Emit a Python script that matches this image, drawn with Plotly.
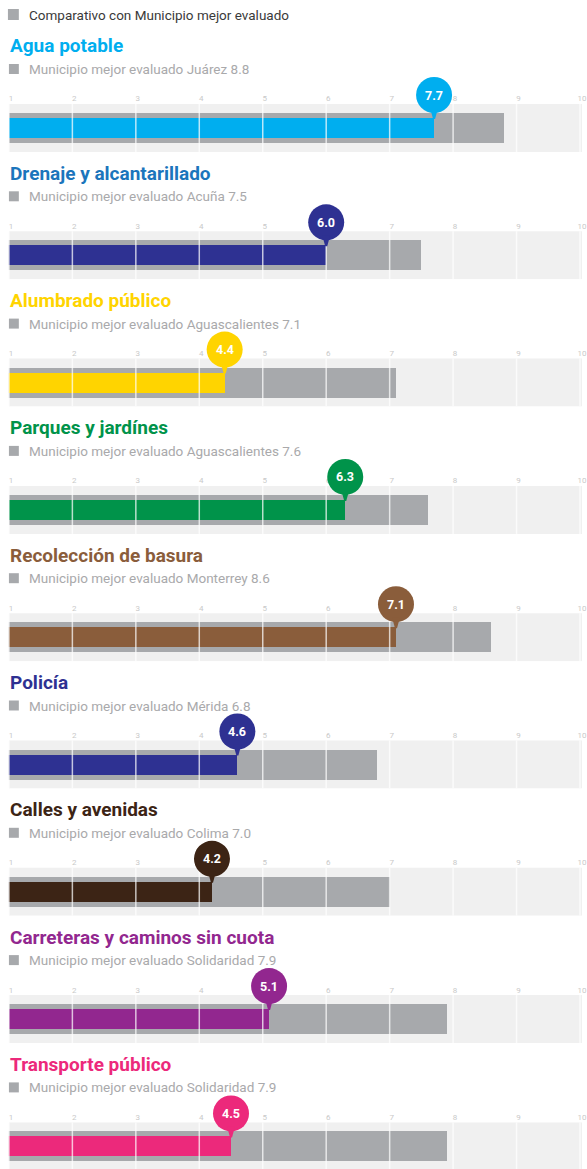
import plotly.graph_objects as go

# ---------------- data ----------------
categories = ["Agua potable", "Drenaje y alcantarillado", "Alumbrado público",
              "Parques y jardínes", "Recolección de basura", "Policía",
              "Calles y avenidas", "Carreteras y caminos sin cuota", "Transporte público"]
scores = [7.7, 6.0, 4.4, 6.3, 7.1, 4.6, 4.2, 5.1, 4.5]
best_names = ["Juárez", "Acuña", "Aguascalientes", "Aguascalientes", "Monterrey",
              "Mérida", "Colima", "Solidaridad", "Solidaridad"]
best_scores = [8.8, 7.5, 7.1, 7.6, 8.6, 6.8, 7.0, 7.9, 7.9]
tick_values = [1, 2, 3, 4, 5, 6, 7, 8, 9, 10]
legend_label = "Comparativo con Municipio mejor evaluado"

# ---------------- styles ----------------
bar_colors = ["#00aeef", "#2e3192", "#ffd400", "#00934a", "#8a5d3b",
              "#2e3192", "#3c2415", "#92278f", "#ec297b"]
title_colors = ["#00aeef", "#1b75bc", "#ffd400", "#00934a", "#8a5d3b",
                "#2e3192", "#3c2415", "#92278f", "#ec297b"]
GRAY = "#a7a9ac"
BAND = "#f0f0f0"
FONT = "Roboto"

W, H = 587, 1169
STEP = 127.3
BAND_TOP0 = 104
BAND_H = 48
EXTRA = 34          # room above the band for the value bubble
PX_PER_UNIT = 64.0
LEFT = 9


def py(px):
    return 1 - px / H


fig = go.Figure()
layout = dict(
    width=W, height=H, margin=dict(l=0, r=0, t=0, b=0),
    paper_bgcolor="white", plot_bgcolor="rgba(0,0,0,0)", showlegend=False,
    barmode="overlay", bargap=0,
    font=dict(family=FONT),
)
annotations = []
shapes = []

# top legend
shapes.append(dict(type="rect", xref="paper", yref="paper", x0=8 / W, x1=19 / W,
                   y0=py(20), y1=py(9), fillcolor=GRAY, line=dict(width=0)))
annotations.append(dict(text=legend_label, xref="paper", yref="paper", x=27 / W, y=py(15),
                        xanchor="left", yanchor="middle", showarrow=False,
                        font=dict(size=13.5, color="#3a3a3a", family=FONT)))

x_end = tick_values[0] + (W - LEFT) / PX_PER_UNIT

for i, cat in enumerate(categories):
    n = i + 1
    xa = "x" if n == 1 else f"x{n}"
    ya = "y" if n == 1 else f"y{n}"
    off = STEP * i
    top = BAND_TOP0 + off
    bottom = min(top + BAND_H, H)
    ylow = 0.5 - (bottom - top) / BAND_H
    yhigh = 0.5 + EXTRA / BAND_H

    layout["xaxis" if n == 1 else f"xaxis{n}"] = dict(
        domain=[LEFT / W, 1], range=[tick_values[0], x_end],
        anchor="free", position=py(top), side="top",
        tickvals=tick_values, ticktext=[str(t) for t in tick_values],
        tickfont=dict(size=8, color="#c9c9c9", family=FONT), ticks="",
        showgrid=False, zeroline=False, showline=False, fixedrange=True,
        ticklabelshift=2, ticklabelstandoff=1, ticklabeloverflow="allow",
    )
    layout["yaxis" if n == 1 else f"yaxis{n}"] = dict(
        domain=[py(bottom), py(top - EXTRA)], range=[ylow, yhigh], anchor=xa,
        visible=False, fixedrange=True,
    )

    # light band behind the bars
    shapes.append(dict(type="rect", layer="below", xref=f"{xa} domain", yref=ya,
                       x0=0, x1=1, y0=-0.5, y1=0.5, fillcolor=BAND, line=dict(width=0)))

    # best municipality bar
    fig.add_trace(go.Bar(x=[best_scores[i]], y=[0], orientation="h", width=0.625,
                         marker=dict(color=GRAY, line=dict(width=0)),
                         xaxis=xa, yaxis=ya, hoverinfo="skip"))
    # gridlines
    gx, gy = [], []
    for t in tick_values:
        gx += [t, t, None]
        gy += [-0.5, 0.5, None]
    fig.add_trace(go.Scatter(x=gx, y=gy, mode="lines",
                             line=dict(color="rgba(255,255,255,0.72)", width=1.5),
                             xaxis=xa, yaxis=ya, hoverinfo="skip"))
    # own score bar
    fig.add_trace(go.Bar(x=[scores[i]], y=[0], orientation="h", width=0.4,
                         marker=dict(color=bar_colors[i], line=dict(width=0)),
                         xaxis=xa, yaxis=ya, hovertemplate="%{x}<extra></extra>"))

    # bubble
    shapes.append(dict(type="circle", layer="above", xref=xa, yref=ya,
                       xsizemode="pixel", ysizemode="pixel",
                       xanchor=scores[i], yanchor=0.5,
                       x0=-18, x1=18, y0=-9, y1=27,
                       fillcolor=bar_colors[i], line=dict(width=0)))
    shapes.append(dict(type="path", layer="above", xref=xa, yref=ya,
                       xsizemode="pixel", ysizemode="pixel",
                       xanchor=scores[i], yanchor=0.5,
                       path="M -4,-4 L 4,-4 L 1,-15 L -1,-15 Z",
                       fillcolor=bar_colors[i], line=dict(width=0)))
    annotations.append(dict(text=f"<b>{scores[i]:.1f}</b>", xref=xa, yref=ya,
                            x=scores[i], y=0.5, yshift=9, showarrow=False,
                            xanchor="center", yanchor="middle",
                            font=dict(size=12.5, color="white", family=FONT)))

    # title
    annotations.append(dict(text=f"<b>{cat}</b>", xref="paper", yref="paper",
                            x=8 / W, y=py(46 + off), xanchor="left", yanchor="middle",
                            showarrow=False,
                            font=dict(size=19, color=title_colors[i], family=FONT)))
    # subtitle
    shapes.append(dict(type="rect", xref="paper", yref="paper", x0=9 / W, x1=19 / W,
                       y0=py(74 + off), y1=py(64 + off), fillcolor=GRAY, line=dict(width=0)))
    annotations.append(dict(text=f"Municipio mejor evaluado {best_names[i]} {best_scores[i]:.1f}",
                            xref="paper", yref="paper", x=27 / W, y=py(69 + off),
                            xanchor="left", yanchor="middle", showarrow=False,
                            font=dict(size=13.5, color="#a9a9ab", family=FONT)))

layout["annotations"] = annotations
layout["shapes"] = shapes
fig.update_layout(**layout)
fig.write_html("out.html")
